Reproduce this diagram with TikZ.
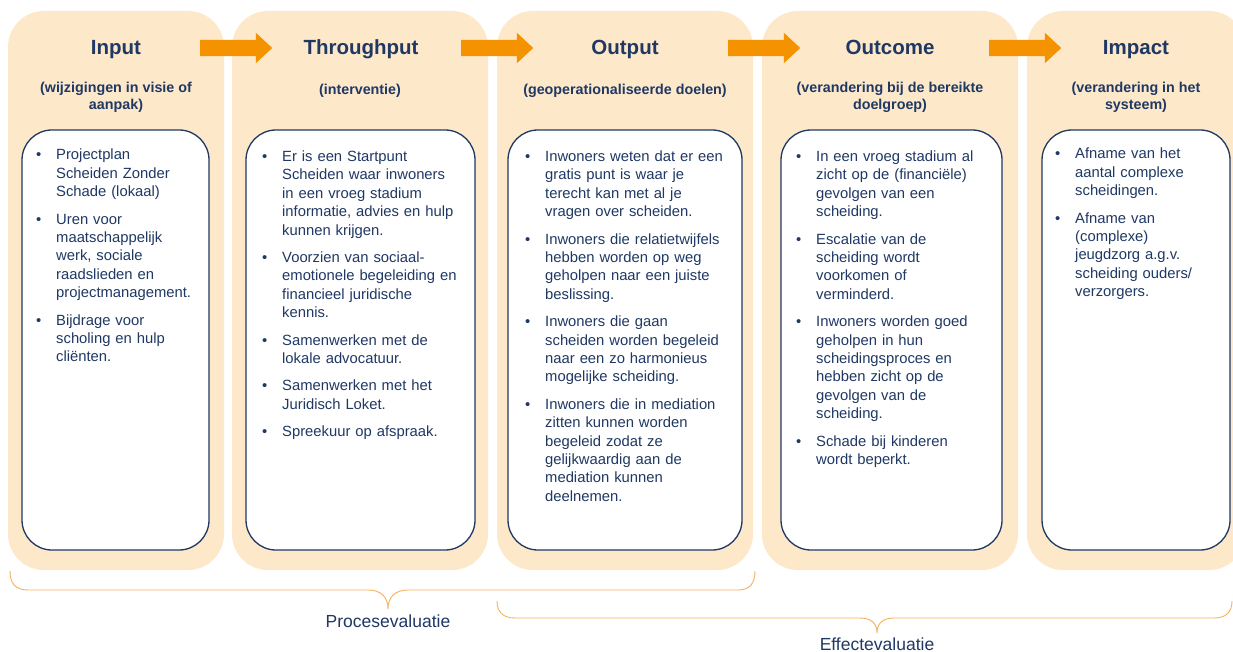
\documentclass[tikz,border=0pt]{standalone}
\usepackage{fontspec}
\setmainfont{Liberation Sans}
\usepackage{xcolor}
\usepackage{tikz}
\usetikzlibrary{shapes.arrows, arrows.meta}
\definecolor{ChainPeach}{RGB}{253, 232, 201}
\definecolor{ChainNavy}{RGB}{31, 56, 100}
\definecolor{ChainOrange}{RGB}{244, 146, 0}
\definecolor{ChainBrace}{RGB}{245, 178, 90}

% bullet paragraph with hanging indent
\newcommand{\chainitem}[1]{\hangindent=20pt\hangafter=1\noindent\makebox[20pt][l]{\textbullet}#1\par}

\tikzset{
  stagepanel/.style={rounded corners=36pt, fill=ChainPeach, draw=none, minimum height=559pt, inner sep=0pt},
  stagebox/.style={rounded corners=30pt, fill=white, draw=ChainNavy, line width=1.3pt, minimum height=420pt, inner sep=0pt},
  stagetitle/.style={anchor=base, inner sep=0pt, text=ChainNavy, font=\fontsize{20.5}{24}\selectfont\bfseries},
  stagesub/.style={anchor=north, inner sep=0pt, align=center, text=ChainNavy, font=\fontsize{14.3}{17.5}\selectfont\bfseries},
  stagetext/.style={anchor=north west, inner sep=0pt, align=left, text=ChainNavy,
    font=\fontsize{14.8}{18.4}\selectfont, execute at begin node={\setlength{\parskip}{9pt}}},
  stagearrow/.style={single arrow, fill=ChainOrange, draw=none, anchor=tail, inner xsep=0pt, inner ysep=8pt,
    minimum height=72pt, single arrow head extend=7pt, single arrow tip angle=86},
  evalbrace/.style={draw=ChainBrace, line width=0.9pt},
  evallabel/.style={inner sep=0pt, text=ChainNavy, font=\fontsize{17.5}{20}\selectfont}
}

\begin{document}
\begin{tikzpicture}[x=1pt, y=-1pt]
  \useasboundingbox (0,0) rectangle (1233,652);
  \fill[white] (0,0) rectangle (1233,652);
  \clip (0,0) rectangle (1233,652);

  % peach columns
  \node[stagepanel, minimum width=216pt] (inputpanel) at (116,290.5) {};
  \node[stagepanel, minimum width=256pt] (throughpanel) at (360,290.5) {};
  \node[stagepanel, minimum width=256pt] (outputpanel) at (625,290.5) {};
  \node[stagepanel, minimum width=256pt] (outcomepanel) at (890,290.5) {};
  \node[stagepanel, minimum width=218pt] (impactpanel) at (1136,290.5) {};

  % arrows between the columns
  \node[stagearrow] (inputarrow) at (200,48) {};
  \node[stagearrow] (througharrow) at (461,48) {};
  \node[stagearrow] (outputarrow) at (728,48) {};
  \node[stagearrow] (outcomearrow) at (989,48) {};

  % headings
  \node[stagetitle] (inputtitle) at (116,54.5) {Input};
  \node[stagetitle] (throughtitle) at (361,54.5) {Throughput};
  \node[stagetitle] (outputtitle) at (625,54.5) {Output};
  \node[stagetitle] (outcometitle) at (890,54.5) {Outcome};
  \node[stagetitle] (impacttitle) at (1136,54.5) {Impact};

  \node[stagesub] (inputsub) at (116,81.5) {(wijzigingen in visie of\\aanpak)};
  \node[stagesub] (throughsub) at (360,84) {(interventie)};
  \node[stagesub] (outputsub) at (625,84) {(geoperationaliseerde doelen)};
  \node[stagesub] (outcomesub) at (890,81.5) {(verandering bij de bereikte\\doelgroep)};
  \node[stagesub] (impactsub) at (1136,81.5) {(verandering in het\\systeem)};

  % white boxes
  \node[stagebox, minimum width=187pt] (inputbox) at (115.5,340) {};
  \node[stagebox, minimum width=229pt] (throughbox) at (360.5,340) {};
  \node[stagebox, minimum width=234pt] (outputbox) at (625,340) {};
  \node[stagebox, minimum width=221pt] (outcomebox) at (891.5,340) {};
  \node[stagebox, minimum width=188pt] (impactbox) at (1136,340) {};

  \node[stagetext, text width=169pt] (inputtext) at (36,149) {%
    \chainitem{Projectplan\newline Scheiden Zonder\newline Schade (lokaal)}
    \chainitem{Uren voor\newline maatschappelijk\newline werk, sociale\newline raadslieden en\newline projectmanagement.}
    \chainitem{Bijdrage voor\newline scholing en hulp\newline cliënten.}};

  \node[stagetext, text width=209pt] (throughtext) at (262,150.5) {%
    \chainitem{Er is een Startpunt\newline Scheiden waar inwoners\newline in een vroeg stadium\newline informatie, advies en hulp\newline kunnen krijgen.}
    \chainitem{Voorzien van sociaal-\newline emotionele begeleiding en\newline financieel juridische\newline kennis.}
    \chainitem{Samenwerken met de\newline lokale advocatuur.}
    \chainitem{Samenwerken met het\newline Juridisch Loket.}
    \chainitem{Spreekuur op afspraak.}};

  \node[stagetext, text width=213pt] (outputtext) at (525,150.5) {%
    \chainitem{Inwoners weten dat er een\newline gratis punt is waar je\newline terecht kan met al je\newline vragen over scheiden.}
    \chainitem{Inwoners die relatietwijfels\newline hebben worden op weg\newline geholpen naar een juiste\newline beslissing.}
    \chainitem{Inwoners die gaan\newline scheiden worden begeleid\newline naar een zo harmonieus\newline mogelijke scheiding.}
    \chainitem{Inwoners die in mediation\newline zitten kunnen worden\newline begeleid zodat ze\newline gelijkwaardig aan de\newline mediation kunnen\newline deelnemen.}};

  \node[stagetext, text width=202pt] (outcometext) at (796,150.5) {%
    \chainitem{In een vroeg stadium al\newline zicht op de (financiële)\newline gevolgen van een\newline scheiding.}
    \chainitem{Escalatie van de\newline scheiding wordt\newline voorkomen of\newline verminderd.}
    \chainitem{Inwoners worden goed\newline geholpen in hun\newline scheidingsproces en\newline hebben zicht op de\newline gevolgen van de\newline scheiding.}
    \chainitem{Schade bij kinderen\newline wordt beperkt.}};

  \node[stagetext, text width=171pt] (impacttext) at (1055,148) {%
    \chainitem{Afname van het\newline aantal complexe\newline scheidingen.}
    \chainitem{Afname van\newline (complexe)\newline jeugdzorg a.g.v.\newline scheiding ouders/\newline verzorgers.}};

  % evaluation braces
  \draw[evalbrace] (10,571) .. controls (10,583) and (15,590) .. (28,590) -- (368,590)
    .. controls (381,590) and (388,597) .. (388,609) .. controls (388,597) and (395,590) .. (408,590)
    -- (738,590) .. controls (750,590) and (755,583) .. (755,571);
  \draw[evalbrace] (497,601) .. controls (497,612) and (503,618) .. (515,618) -- (860,618)
    .. controls (872,618) and (877,624) .. (877,633) .. controls (877,624) and (882,618) .. (894,618)
    -- (1214,618) .. controls (1226,618) and (1232,612) .. (1232,601);

  \node[evallabel] (proceslabel) at (388,621) {Procesevaluatie};
  \node[evallabel] (effectlabel) at (877,644) {Effectevaluatie};
\end{tikzpicture}
\end{document}
